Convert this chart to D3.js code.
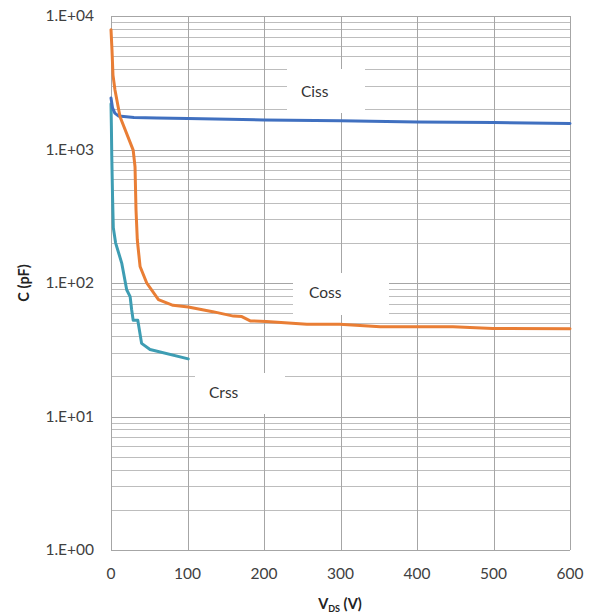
<!DOCTYPE html>
<html><head><meta charset="utf-8">
<script src="https://cdn.jsdelivr.net/npm/d3@7"></script>
<style>body{margin:0;background:#fff}svg{display:block}</style>
</head><body><svg id="c" width="593" height="615"></svg>
<script>
const xTicks = [0,100,200,300,400,500,600];
const yTicks = [1,10,100,1000,10000];
const yTickLabels = ["1.E+00","1.E+01","1.E+02","1.E+03","1.E+04"];

const vdsCiss = [0, 2, 5, 10, 30, 60, 100, 200, 300, 400, 500, 600];
const ciss    = [2430, 2050, 1875, 1780, 1740, 1725, 1710, 1665, 1640, 1610, 1590, 1565];

const vdsCoss = [0, 1.3, 2.6, 5.2, 11.8, 29, 31.4, 32.7, 34.4, 38, 46.7, 62, 81, 101, 133, 160, 171, 182, 203, 256, 299, 352, 447, 499, 600];
const coss    = [7900, 5560, 3610, 2790, 1760, 990, 743, 352, 210, 133, 100, 75, 68, 66, 61, 56.5, 56, 52, 51.5, 49, 49, 47, 47, 45.7, 45.5];

const vdsCrss = [0, 0.5, 1, 2, 3, 6, 14, 20.5, 25, 27, 29, 35, 40, 51, 101];
const crss    = [2200, 1500, 900, 450, 260, 200, 141, 89, 79, 63, 52.5, 52.5, 35.3, 31.8, 27];

const seriesNames = ["Ciss","Coss","Crss"];

const svg = d3.select("#c");
const x = d3.scaleLinear().domain([0,600]).range([111,570]);
const y = d3.scaleLog().domain([1,10000]).range([550,16]);
const font = "Lato, 'Open Sans', sans-serif";
const gridCol = "#a6a6a6";

// minor grid
const minor = [];
for (let d=1; d<10000; d*=10) for (let k=2;k<=9;k++) minor.push(d*k);
const g = svg.append("g");
g.selectAll("line.mn").data(minor).join("line")
  .attr("x1",x(0)).attr("x2",x(600))
  .attr("y1",d=>Math.round(y(d))+0.5).attr("y2",d=>Math.round(y(d))+0.5)
  .attr("stroke","#bdbdbd").attr("stroke-width",1);
g.selectAll("line.mj").data(yTicks).join("line")
  .attr("x1",x(0)).attr("x2",x(600))
  .attr("y1",d=>Math.round(y(d))+0.5).attr("y2",d=>Math.round(y(d))+0.5)
  .attr("stroke",gridCol).attr("stroke-width",1);
g.selectAll("line.vx").data(xTicks).join("line")
  .attr("x1",d=>Math.round(x(d))+0.5).attr("x2",d=>Math.round(x(d))+0.5)
  .attr("y1",y(10000)).attr("y2",y(1))
  .attr("stroke",gridCol).attr("stroke-width",1);

// label boxes (white background, data labels)
const labels = [
  {name:"Ciss", bx:[287,365], by:[69,113], tx:301, ty:97},
  {name:"Coss", bx:[293,389], by:[273,315], tx:309, ty:298},
  {name:"Crss", bx:[195,285], by:[373,414], tx:209, ty:398}
];
svg.append("g").selectAll("rect").data(labels).join("rect")
  .attr("x",d=>d.bx[0]).attr("y",d=>d.by[0])
  .attr("width",d=>d.bx[1]-d.bx[0]).attr("height",d=>d.by[1]-d.by[0])
  .attr("fill","#fff");

// series
const series = [
  {v:vdsCiss, c:ciss, col:"#4070C0"},
  {v:vdsCoss, c:coss, col:"#E97E35"},
  {v:vdsCrss, c:crss, col:"#3E9DB3"}
];
const line = d3.line().x(d=>x(d[0])).y(d=>y(d[1]));
const order = [2,0,1];
order.forEach(i=>{
  const s = series[i];
  svg.append("path").datum(s.v.map((v,j)=>[v,s.c[j]]))
    .attr("d",line).attr("fill","none").attr("stroke",s.col)
    .attr("stroke-width",3).attr("stroke-linejoin","round").attr("stroke-linecap","round");
});

// label text
svg.append("g").selectAll("text").data(labels).join("text")
  .attr("x",d=>d.tx).attr("y",d=>d.ty).text(d=>d.name)
  .attr("font-family",font).attr("font-size",15.5).attr("fill","#333");

// tick labels
svg.append("g").selectAll("text").data(yTicks).join("text")
  .attr("x",94).attr("y",d=>y(d)+5).attr("text-anchor","end")
  .text((d,i)=>yTickLabels[i])
  .attr("font-family",font).attr("font-size",15.5).attr("fill","#404040");
svg.append("g").selectAll("text").data(xTicks).join("text")
  .attr("x",d=>x(d)).attr("y",579).attr("text-anchor","middle")
  .text(d=>d)
  .attr("font-family",font).attr("font-size",15.5).attr("fill","#404040");

// axis titles
svg.append("text").attr("transform","translate(29,283) rotate(-90)")
  .attr("text-anchor","middle").attr("font-family",font).attr("font-size",14.5)
  .attr("font-weight","bold").attr("fill","#222").text("C (pF)");
const xt = svg.append("text").attr("x",340).attr("y",609).attr("text-anchor","middle")
  .attr("font-family",font).attr("font-size",14.5).attr("font-weight","bold").attr("fill","#222");
xt.append("tspan").text("V");
xt.append("tspan").attr("font-size",9).attr("dy",3).text("DS");
xt.append("tspan").attr("dy",-3).text(" (V)");
</script></body></html>
